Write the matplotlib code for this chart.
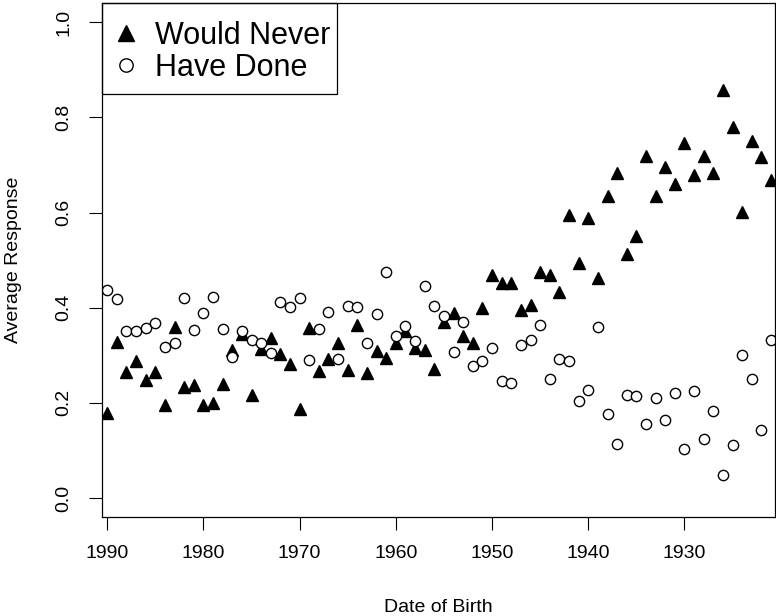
import matplotlib
matplotlib.use("Agg")
import matplotlib.pyplot as plt
from matplotlib.patches import Rectangle

plt.rcParams["font.family"] = ["Liberation Sans", "DejaVu Sans"]

# birth years, newest first (one point per year)
years = list(range(1990, 1919, -1))

would_never = [
    0.178, 0.327, 0.265, 0.288, 0.249, 0.264, 0.195, 0.360, 0.234, 0.238,  # 1990-1981
    0.195, 0.200, 0.239, 0.312, 0.344, 0.216, 0.313, 0.336, 0.302, 0.281,  # 1980-1971
    0.187, 0.357, 0.267, 0.293, 0.326, 0.269, 0.364, 0.263, 0.309, 0.295,  # 1970-1961
    0.326, 0.351, 0.316, 0.311, 0.271, 0.370, 0.388, 0.341, 0.326, 0.400,  # 1960-1951
    0.468, 0.452, 0.451, 0.396, 0.406, 0.475, 0.469, 0.434, 0.595, 0.494,  # 1950-1941
    0.588, 0.462, 0.634, 0.684, 0.513, 0.550, 0.719, 0.634, 0.695, 0.660,  # 1940-1931
    0.746, 0.679, 0.720, 0.683, 0.858, 0.779, 0.602, 0.751, 0.716, 0.669,  # 1930-1921
    0.496,                                                                  # 1920
]

have_done = [
    0.438, 0.418, 0.350, 0.350, 0.357, 0.368, 0.318, 0.326, 0.420, 0.353,  # 1990-1981
    0.388, 0.423, 0.355, 0.297, 0.351, 0.333, 0.325, 0.305, 0.413, 0.402,  # 1980-1971
    0.420, 0.291, 0.355, 0.391, 0.292, 0.404, 0.402, 0.325, 0.387, 0.476,  # 1970-1961
    0.340, 0.362, 0.330, 0.446, 0.403, 0.382, 0.307, 0.369, 0.277, 0.287,  # 1960-1951
    0.316, 0.246, 0.241, 0.322, 0.333, 0.363, 0.250, 0.293, 0.288, 0.204,  # 1950-1941
    0.227, 0.360, 0.176, 0.114, 0.216, 0.215, 0.155, 0.211, 0.164, 0.220,  # 1940-1931
    0.103, 0.225, 0.125, 0.182, 0.048, 0.111, 0.300, 0.250, 0.143, 0.333,  # 1930-1921
    0.000,                                                                  # 1920
]

x_ticks = [1990, 1980, 1970, 1960, 1950, 1940, 1930]
y_ticks = [0.0, 0.2, 0.4, 0.6, 0.8, 1.0]

W, H = 776, 616
L, R, T, B = 101.7, 775.5, 3.3, 517  # plot box in pixels

fig = plt.figure(figsize=(W / 100, H / 100), dpi=100)
ax = fig.add_axes([L / W, 1 - B / H, (R - L) / W, (B - T) / H])

ax.plot(years, would_never, ls="none", marker="^", ms=8.6, color="black",
        label="Would Never")
ax.plot(years, have_done, ls="none", marker="o", ms=7.4, mfc="white",
        mec="black", mew=1.0, label="Have Done")

ax.set_xlim(1990.57, 1920.54)
ax.set_ylim(-0.04, 1.04)
ax.set_xticks(x_ticks)
ax.set_xticklabels([str(y) for y in x_ticks])
ax.set_yticks(y_ticks)
ax.set_yticklabels([f"{v:.1f}" for v in y_ticks], rotation=90, va="center")
ax.tick_params(direction="out", length=9.5, width=0.8, labelsize=14, color="black")
ax.tick_params(axis="x", pad=11)
ax.tick_params(axis="y", pad=11.5)
for s in ax.spines.values():
    s.set_linewidth(0.9)
    s.set_color("black")

ax.set_ylabel("Average Response", fontsize=14, labelpad=24)
fig.text(0.5 * (L + R) / W, 1 - 607 / H, "Date of Birth",
         fontsize=14, ha="center", va="center")

# R-style legend: entries placed without frame, box drawn flush with the plot corner
leg = ax.legend(loc="upper left", bbox_to_anchor=(110.7 / W, 1 - 21 / H),
                bbox_transform=fig.transFigure, fontsize=22, frameon=False,
                borderpad=0, borderaxespad=0, handlelength=1.0,
                handletextpad=0.45, labelspacing=0.06, markerscale=1.3)
ax.add_patch(Rectangle((0, (B - 94) / (B - T)), (337 - L) / (R - L), (94 - T) / (B - T),
                       transform=ax.transAxes, fill=False, ec="black", lw=0.9,
                       clip_on=False, zorder=5))

fig.savefig("out.png", dpi=100)
